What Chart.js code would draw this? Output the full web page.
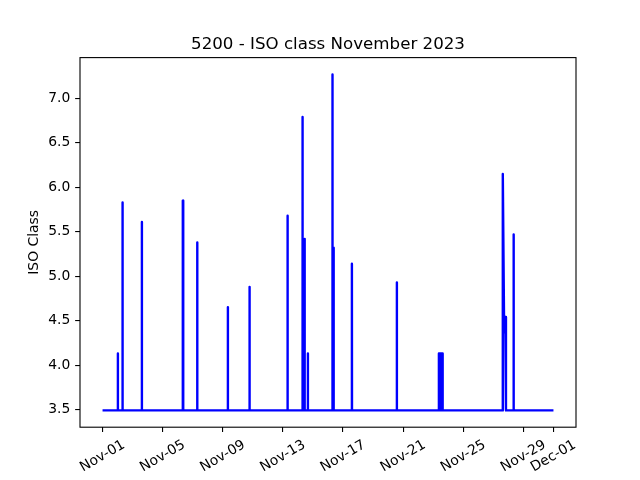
<!DOCTYPE html>
<html>
<head>
<meta charset="utf-8">
<script src="https://cdn.jsdelivr.net/npm/chart.js@4.4.1/dist/chart.umd.min.js"></script>
<style>
  html, body { margin: 0; padding: 0; background: #ffffff; }
  canvas { display: block; }
</style>
</head>
<body>
<canvas id="c" width="640" height="480"></canvas>
<script>
// ---- Data ----
const chartTitle = "5200 - ISO class November 2023";
const yAxisTitle = "ISO Class";

// timestamps (MM-DD HH:MM, year 2023)
const timestamps = [
  "11-01 00:00",
  "11-02 00:16", "11-02 00:26", "11-02 00:36",
  "11-02 07:45", "11-02 07:55", "11-02 08:05",
  "11-03 14:36", "11-03 14:46", "11-03 14:56",
  "11-06 08:00", "11-06 08:10", "11-06 08:40", "11-06 08:50",
  "11-07 07:02", "11-07 07:12", "11-07 07:22",
  "11-09 07:55", "11-09 08:05", "11-09 08:15",
  "11-10 18:33", "11-10 18:43", "11-10 18:53",
  "11-13 07:16", "11-13 07:26", "11-13 07:36",
  "11-14 06:48", "11-14 06:58", "11-14 07:10", "11-14 07:40", "11-14 07:50",
  "11-14 08:40", "11-14 08:50", "11-14 09:40", "11-14 09:50", "11-14 10:40", "11-14 10:50",
  "11-14 15:40", "11-14 15:50", "11-14 16:00",
  "11-16 06:33", "11-16 06:43", "11-16 06:55", "11-16 07:30", "11-16 07:40",
  "11-16 08:30", "11-16 08:40", "11-16 09:10", "11-16 09:20",
  "11-17 14:00", "11-17 14:10", "11-17 14:20",
  "11-20 13:45", "11-20 13:55", "11-20 14:05",
  "11-23 08:50", "11-23 09:00", "11-23 09:10", "11-23 10:20", "11-23 10:30", "11-23 10:40",
  "11-23 11:50", "11-23 12:00", "11-23 12:10", "11-23 13:20", "11-23 13:30", "11-23 13:40",
  "11-23 14:50", "11-23 15:00", "11-23 15:10",
  "11-27 14:57", "11-27 15:07", "11-27 17:17", "11-27 18:58", "11-27 20:10",
  "11-28 08:14", "11-28 08:24", "11-28 08:34",
  "12-01 00:00"
];
const isoClass = [
  3.49,
  3.49, 4.13, 3.49,
  3.49, 5.83, 3.49,
  3.49, 5.61, 3.49,
  3.49, 5.85, 5.85, 3.49,
  3.49, 5.38, 3.49,
  3.49, 4.65, 3.49,
  3.49, 4.88, 3.49,
  3.49, 5.68, 3.49,
  3.49, 6.79, 3.49, 5.42, 3.49,
  5.42, 3.49, 5.42, 3.49, 5.42, 3.49,
  3.49, 4.13, 3.49,
  3.49, 7.27, 3.49, 5.32, 3.49,
  5.32, 3.49, 5.32, 3.49,
  3.49, 5.14, 3.49,
  3.49, 4.93, 3.49,
  3.49, 4.13, 3.49, 3.49, 4.13, 3.49,
  3.49, 4.13, 3.49, 3.49, 4.13, 3.49,
  3.49, 4.13, 3.49,
  3.49, 6.15, 4.37, 4.54, 3.49,
  3.49, 5.47, 3.49,
  3.49
];

// x tick positions (days since Nov 01 00:00) and their labels
const xTickDays = [0, 4, 8, 12, 16, 20, 24, 28, 30];
const xTickLabels = ["Nov-01", "Nov-05", "Nov-09", "Nov-13", "Nov-17", "Nov-21", "Nov-25", "Nov-29", "Dec-01"];
const yTickValues = [3.5, 4.0, 4.5, 5.0, 5.5, 6.0, 6.5, 7.0];

// ---- helpers ----
function toDays(s) {
  const [md, hm] = s.split(' ');
  const [mo, dd] = md.split('-').map(Number);
  const [h, m] = hm.split(':').map(Number);
  return (mo === 12 ? 30 : 0) + (dd - 1) + h / 24 + m / 1440;
}
const points = timestamps.map((t, i) => ({ x: toDays(t), y: isoClass[i] }));
const xs = points.map(p => p.x), ys = points.map(p => p.y);
const xMinD = Math.min(...xs), xMaxD = Math.max(...xs);
const yMinD = Math.min(...ys), yMaxD = Math.max(...ys);
const xm = (xMaxD - xMinD) * 0.05, ym = (yMaxD - yMinD) * 0.05;

const FONT = "'DejaVu Sans', sans-serif";
const TICK_PX = 13.89;
const TICK_LEN = 4.86;

const framePlugin = {
  id: 'frame',
  afterDraw(chart) {
    const { ctx, chartArea: a } = chart;
    ctx.save();
    ctx.strokeStyle = '#000';
    ctx.lineWidth = 1.1;
    ctx.strokeRect(a.left, a.top, a.right - a.left, a.bottom - a.top);
    // title centred over the plot area
    ctx.fillStyle = '#000';
    ctx.font = "16.67px " + FONT;
    ctx.textAlign = 'center';
    ctx.textBaseline = 'alphabetic';
    ctx.fillText(chartTitle, (a.left + a.right) / 2, a.top - 8.33);
    // x tick labels, rotated 30deg, centred on the tick (matplotlib style)
    const xs = chart.scales.x;
    ctx.font = TICK_PX + "px " + FONT;
    ctx.textAlign = 'center';
    ctx.textBaseline = 'middle';
    const th = Math.PI / 6;
    xs.ticks.forEach((t) => {
      const label = xTickLabels[xTickDays.indexOf(t.value)];
      if (label === undefined) return;
      const px = xs.getPixelForValue(t.value);
      const w = ctx.measureText(label).width;
      const h = 16;
      const bh = w * Math.sin(th) + h * Math.cos(th);
      const cy = a.bottom + TICK_LEN + 4.86 + bh / 2;
      ctx.save();
      ctx.translate(px, cy);
      ctx.rotate(-th);
      ctx.fillText(label, 0, 0);
      ctx.restore();
    });
    ctx.restore();
  }
};

new Chart(document.getElementById('c'), {
  type: 'line',
  data: {
    datasets: [{
      data: points,
      borderColor: '#0000ff',
      backgroundColor: '#0000ff',
      borderWidth: 2.4,
      pointRadius: 0,
      tension: 0,
      fill: false,
      borderJoinStyle: 'round',
      borderCapStyle: 'butt'
    }]
  },
  options: {
    responsive: false,
    animation: false,
    events: [],
    layout: { padding: { left: 0, right: 64, top: 57.6, bottom: 0 } },
    plugins: {
      legend: { display: false },
      tooltip: { enabled: false },
      title: { display: false }
    },
    scales: {
      x: {
        type: 'linear',
        min: xMinD - xm,
        max: xMaxD + xm,
        border: { display: false },
        grid: { drawOnChartArea: false, drawTicks: true, tickLength: TICK_LEN, color: '#000', lineWidth: 1.1 },
        ticks: { display: false },
        afterBuildTicks: (axis) => { axis.ticks = xTickDays.map(v => ({ value: v })); },
        afterFit: (axis) => { axis.height = 52.8; }
      },
      y: {
        type: 'linear',
        min: yMinD - ym,
        max: yMaxD + ym,
        border: { display: false },
        grid: { drawOnChartArea: false, drawTicks: true, tickLength: TICK_LEN, color: '#000', lineWidth: 1.1 },
        ticks: {
          color: '#000',
          font: { family: FONT, size: TICK_PX },
          padding: 4.86,
          callback: (v) => Number(v).toFixed(1)
        },
        afterBuildTicks: (axis) => { axis.ticks = yTickValues.map(v => ({ value: v })); },
        afterFit: (axis) => { axis.width = 80; },
        title: {
          display: true,
          text: yAxisTitle,
          color: '#000',
          font: { family: FONT, size: TICK_PX },
          padding: { top: 25.7, bottom: 0 }
        }
      }
    }
  },
  plugins: [framePlugin]
});
</script>
</body>
</html>
